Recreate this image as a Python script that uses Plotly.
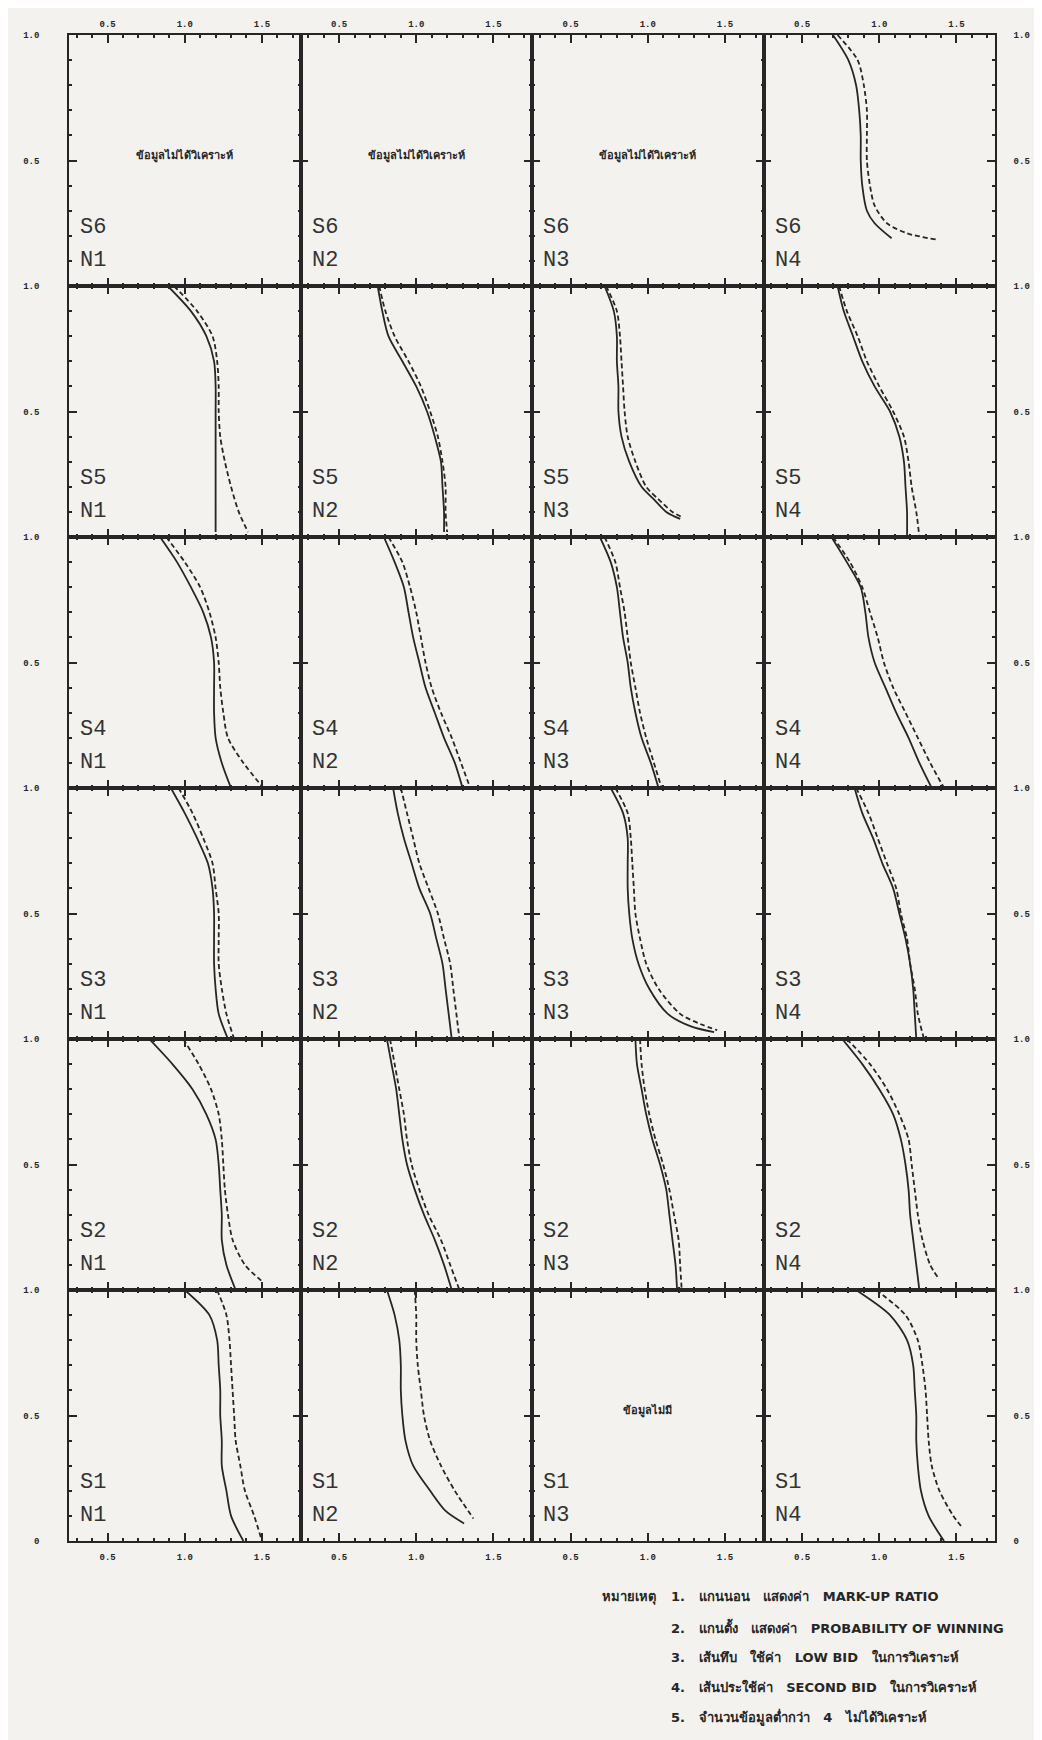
import plotly.graph_objects as go
from plotly.subplots import make_subplots

# ---------------- data (x = mark-up ratio, y = probability of winning) ----------------
Y_STD = [1.0, 0.9, 0.8, 0.7, 0.6, 0.5, 0.4, 0.3, 0.2, 0.1, 0.0]

# S6
S6N4_low_y = [1.0, 0.9, 0.8, 0.7, 0.6, 0.5, 0.4, 0.3, 0.25, 0.19]
S6N4_low_x = [0.70, 0.80, 0.85, 0.87, 0.88, 0.88, 0.89, 0.92, 0.97, 1.08]
S6N4_sec_y = [1.0, 0.9, 0.8, 0.7, 0.6, 0.5, 0.4, 0.32, 0.25, 0.21, 0.185]
S6N4_sec_x = [0.73, 0.86, 0.90, 0.92, 0.92, 0.92, 0.94, 0.97, 1.05, 1.18, 1.37]

# S5
S5N1_low_y = [1.0, 0.9, 0.8, 0.7, 0.6, 0.5, 0.4, 0.3, 0.2, 0.1, 0.02]
S5N1_low_x = [0.89, 1.04, 1.14, 1.19, 1.20, 1.20, 1.20, 1.20, 1.20, 1.20, 1.20]
S5N1_sec_x = [0.93, 1.08, 1.18, 1.21, 1.22, 1.22, 1.23, 1.26, 1.30, 1.35, 1.41]
S5N2_low_x = [0.75, 0.78, 0.82, 0.91, 1.00, 1.07, 1.12, 1.16, 1.17, 1.18, 1.18]
S5N2_sec_x = [0.76, 0.80, 0.86, 0.95, 1.03, 1.09, 1.14, 1.17, 1.19, 1.19, 1.20]
S5N3_low_y = [1.0, 0.9, 0.8, 0.7, 0.6, 0.5, 0.4, 0.3, 0.2, 0.15, 0.1, 0.072]
S5N3_low_x = [0.72, 0.78, 0.80, 0.80, 0.81, 0.81, 0.83, 0.88, 0.96, 1.04, 1.12, 1.21]
S5N3_sec_y = [1.0, 0.9, 0.8, 0.7, 0.6, 0.5, 0.4, 0.3, 0.2, 0.15, 0.1, 0.08]
S5N3_sec_x = [0.73, 0.80, 0.82, 0.83, 0.84, 0.85, 0.87, 0.92, 0.99, 1.07, 1.16, 1.22]
S5N4_low_x = [0.73, 0.77, 0.83, 0.89, 0.97, 1.07, 1.13, 1.16, 1.17, 1.18, 1.18]
S5N4_sec_x = [0.74, 0.79, 0.86, 0.92, 1.00, 1.09, 1.16, 1.19, 1.21, 1.24, 1.26]

# S4
S4N1_low_x = [0.84, 0.95, 1.04, 1.12, 1.17, 1.19, 1.19, 1.19, 1.20, 1.24, 1.30]
S4N1_sec_x = [0.88, 1.00, 1.10, 1.16, 1.20, 1.22, 1.23, 1.25, 1.28, 1.38, 1.51]
S4N2_low_x = [0.79, 0.86, 0.92, 0.95, 0.98, 1.02, 1.06, 1.12, 1.18, 1.25, 1.30]
S4N2_sec_x = [0.82, 0.91, 0.96, 1.00, 1.03, 1.06, 1.10, 1.16, 1.23, 1.29, 1.35]
S4N3_low_x = [0.69, 0.76, 0.80, 0.82, 0.84, 0.87, 0.89, 0.92, 0.96, 1.02, 1.07]
S4N3_sec_x = [0.72, 0.79, 0.82, 0.85, 0.87, 0.89, 0.92, 0.95, 0.99, 1.04, 1.09]
S4N4_low_x = [0.69, 0.79, 0.88, 0.91, 0.93, 0.97, 1.04, 1.11, 1.19, 1.26, 1.34]
S4N4_sec_x = [0.70, 0.81, 0.89, 0.94, 0.99, 1.03, 1.09, 1.17, 1.25, 1.33, 1.42]

# S3
S3N1_low_x = [0.91, 1.00, 1.08, 1.15, 1.18, 1.19, 1.19, 1.19, 1.20, 1.22, 1.28]
S3N1_sec_x = [0.96, 1.05, 1.12, 1.18, 1.20, 1.22, 1.22, 1.22, 1.24, 1.27, 1.32]
S3N2_low_x = [0.85, 0.88, 0.92, 0.97, 1.02, 1.09, 1.13, 1.17, 1.19, 1.21, 1.23]
S3N2_sec_x = [0.90, 0.94, 0.98, 1.02, 1.08, 1.14, 1.18, 1.22, 1.24, 1.26, 1.28]
S3N3_low_y = [1.0, 0.9, 0.8, 0.7, 0.6, 0.5, 0.4, 0.3, 0.2, 0.1, 0.05, 0.027]
S3N3_low_x = [0.76, 0.84, 0.87, 0.87, 0.87, 0.88, 0.90, 0.94, 1.01, 1.13, 1.28, 1.43]
S3N3_sec_y = [1.0, 0.9, 0.8, 0.7, 0.6, 0.5, 0.4, 0.3, 0.2, 0.1, 0.06, 0.035]
S3N3_sec_x = [0.79, 0.87, 0.89, 0.90, 0.91, 0.92, 0.95, 0.99, 1.07, 1.21, 1.34, 1.45]
S3N4_low_x = [0.84, 0.89, 0.96, 1.02, 1.09, 1.13, 1.17, 1.20, 1.22, 1.23, 1.24]
S3N4_sec_x = [0.85, 0.93, 0.99, 1.05, 1.11, 1.14, 1.18, 1.20, 1.23, 1.25, 1.29]

# S2
S2N1_low_x = [0.77, 0.92, 1.05, 1.14, 1.20, 1.22, 1.23, 1.24, 1.24, 1.27, 1.33]
S2N1_sec_y = [1.0, 0.9, 0.8, 0.7, 0.6, 0.5, 0.4, 0.3, 0.2, 0.1, 0.03]
S2N1_sec_x = [0.99, 1.09, 1.17, 1.22, 1.24, 1.25, 1.26, 1.28, 1.31, 1.39, 1.51]
S2N2_low_x = [0.81, 0.84, 0.87, 0.89, 0.91, 0.94, 0.99, 1.05, 1.12, 1.18, 1.23]
S2N2_sec_x = [0.83, 0.86, 0.89, 0.92, 0.94, 0.97, 1.02, 1.08, 1.16, 1.22, 1.28]
S2N3_low_x = [0.92, 0.93, 0.96, 0.99, 1.03, 1.08, 1.12, 1.14, 1.16, 1.18, 1.19]
S2N3_sec_x = [0.95, 0.96, 0.98, 1.01, 1.05, 1.10, 1.14, 1.17, 1.20, 1.21, 1.22]
S2N4_low_x = [0.76, 0.89, 1.00, 1.09, 1.14, 1.17, 1.19, 1.20, 1.22, 1.24, 1.26]
S2N4_sec_y = [1.0, 0.9, 0.8, 0.7, 0.6, 0.5, 0.4, 0.3, 0.2, 0.1, 0.05]
S2N4_sec_x = [0.79, 0.94, 1.05, 1.13, 1.19, 1.21, 1.23, 1.25, 1.28, 1.33, 1.38]

# S1
S1N1_low_x = [1.00, 1.16, 1.21, 1.22, 1.23, 1.23, 1.24, 1.24, 1.27, 1.30, 1.38]
S1N1_sec_x = [1.21, 1.27, 1.29, 1.30, 1.31, 1.32, 1.33, 1.36, 1.39, 1.45, 1.50]
S1N2_low_y = [1.0, 0.9, 0.8, 0.7, 0.6, 0.5, 0.4, 0.3, 0.2, 0.12, 0.07]
S1N2_low_x = [0.81, 0.86, 0.89, 0.90, 0.90, 0.91, 0.93, 0.98, 1.09, 1.19, 1.31]
S1N2_sec_y = [1.0, 0.9, 0.8, 0.7, 0.6, 0.5, 0.4, 0.3, 0.2, 0.09]
S1N2_sec_x = [0.99, 1.00, 1.00, 1.01, 1.03, 1.05, 1.09, 1.16, 1.25, 1.37]
S1N4_low_x = [0.85, 1.07, 1.18, 1.22, 1.23, 1.24, 1.24, 1.25, 1.27, 1.32, 1.42]
S1N4_sec_y = [1.0, 0.9, 0.8, 0.7, 0.6, 0.5, 0.4, 0.3, 0.2, 0.1, 0.06]
S1N4_sec_x = [0.98, 1.17, 1.25, 1.28, 1.30, 1.31, 1.32, 1.34, 1.39, 1.48, 1.53]

SERIES_LABELS = ["S6", "S5", "S4", "S3", "S2", "S1"]
N_LABELS = ["N1", "N2", "N3", "N4"]
X_TICKS = [0.5, 1.0, 1.5]
X_TICK_TEXT = ["0.5", "1.0", "1.5"]
NOT_ANALYSED = "ข้อมูลไม่ได้วิเคราะห์"
NO_DATA = "ข้อมูลไม่มี"
NOTE_HEAD = "หมายเหตุ"
NOTES = [
    "1.   แกนนอน   แสดงค่า   MARK-UP RATIO",
    "2.   แกนตั้ง   แสดงค่า   PROBABILITY OF WINNING",
    "3.   เส้นทึบ   ใช้ค่า   LOW BID   ในการวิเคราะห์",
    "4.   เส้นประใช้ค่า   SECOND BID   ในการวิเคราะห์",
    "5.   จำนวนข้อมูลต่ำกว่า   4   ไม่ได้วิเคราะห์",
]

# panel table built from the arrays above: (S, N) -> (low_x, low_y, sec_x, sec_y)
PANELS = {
    ("S6", "N4"): (S6N4_low_x, S6N4_low_y, S6N4_sec_x, S6N4_sec_y),
    ("S5", "N1"): (S5N1_low_x, S5N1_low_y, S5N1_sec_x, S5N1_low_y),
    ("S5", "N2"): (S5N2_low_x, S5N1_low_y, S5N2_sec_x, S5N1_low_y),
    ("S5", "N3"): (S5N3_low_x, S5N3_low_y, S5N3_sec_x, S5N3_sec_y),
    ("S5", "N4"): (S5N4_low_x, Y_STD, S5N4_sec_x, Y_STD),
    ("S4", "N1"): (S4N1_low_x, Y_STD, S4N1_sec_x, Y_STD),
    ("S4", "N2"): (S4N2_low_x, Y_STD, S4N2_sec_x, Y_STD),
    ("S4", "N3"): (S4N3_low_x, Y_STD, S4N3_sec_x, Y_STD),
    ("S4", "N4"): (S4N4_low_x, Y_STD, S4N4_sec_x, Y_STD),
    ("S3", "N1"): (S3N1_low_x, Y_STD, S3N1_sec_x, Y_STD),
    ("S3", "N2"): (S3N2_low_x, Y_STD, S3N2_sec_x, Y_STD),
    ("S3", "N3"): (S3N3_low_x, S3N3_low_y, S3N3_sec_x, S3N3_sec_y),
    ("S3", "N4"): (S3N4_low_x, Y_STD, S3N4_sec_x, Y_STD),
    ("S2", "N1"): (S2N1_low_x, Y_STD, S2N1_sec_x, S2N1_sec_y),
    ("S2", "N2"): (S2N2_low_x, Y_STD, S2N2_sec_x, Y_STD),
    ("S2", "N3"): (S2N3_low_x, Y_STD, S2N3_sec_x, Y_STD),
    ("S2", "N4"): (S2N4_low_x, Y_STD, S2N4_sec_x, S2N4_sec_y),
    ("S1", "N1"): (S1N1_low_x, Y_STD, S1N1_sec_x, Y_STD),
    ("S1", "N2"): (S1N2_low_x, S1N2_low_y, S1N2_sec_x, S1N2_sec_y),
    ("S1", "N4"): (S1N4_low_x, Y_STD, S1N4_sec_x, S1N4_sec_y),
}
TEXT_PANELS = {("S6", "N1"): NOT_ANALYSED, ("S6", "N2"): NOT_ANALYSED,
               ("S6", "N3"): NOT_ANALYSED, ("S1", "N3"): NO_DATA}

# ---------------- styling ----------------
# The page body adds an 8px margin, so the figure is 8px smaller and the
# margins are reduced by 8px to keep the plot area where the reference has it.
OFF = 8
W, H = 1042 - OFF, 1740 - OFF
L, R, T, B = 69 - OFF, 43, 28 - OFF, 199
BG = "#f3f2ef"
INK = "#262626"
MONO = "Liberation Mono, DejaVu Sans Mono, monospace"

fig = make_subplots(rows=6, cols=4, horizontal_spacing=0, vertical_spacing=0)

for r, s in enumerate(SERIES_LABELS, start=1):
    for c, n in enumerate(N_LABELS, start=1):
        key = (s, n)
        if key in PANELS:
            lx, ly, sx, sy = PANELS[key]
            fig.add_trace(go.Scatter(x=lx, y=ly, mode="lines",
                                     line=dict(color=INK, width=1.8, shape="spline", smoothing=0.8),
                                     showlegend=False, hoverinfo="skip"), row=r, col=c)
            fig.add_trace(go.Scatter(x=sx, y=sy, mode="lines",
                                     line=dict(color=INK, width=1.8, dash="5px,3px",
                                               shape="spline", smoothing=0.8),
                                     showlegend=False, hoverinfo="skip"), row=r, col=c)
        if key in TEXT_PANELS:
            fig.add_annotation(x=1.0, y=0.52, text=TEXT_PANELS[key], showarrow=False,
                               font=dict(size=11, color=INK, weight="bold"),
                               row=r, col=c)
        fig.add_annotation(x=0.31, y=0.235, text=s, showarrow=False, xanchor="left",
                           font=dict(family=MONO, size=22, color="#333333"), row=r, col=c)
        fig.add_annotation(x=0.31, y=0.10, text=n, showarrow=False, xanchor="left",
                           font=dict(family=MONO, size=22, color="#333333"), row=r, col=c)

tickfont = dict(family=MONO, size=9, color=INK, weight="bold")

fig.update_xaxes(range=[0.25, 1.75], showgrid=False, zeroline=False,
                 showline=True, linecolor=INK, linewidth=1.6, mirror="ticks",
                 ticks="inside", tickvals=X_TICKS, ticktext=X_TICK_TEXT,
                 ticklen=8, tickwidth=1.5, tickcolor=INK,
                 minor=dict(tickmode="linear", tick0=0.0, dtick=0.1, ticks="inside",
                            ticklen=3, tickwidth=2, tickcolor=INK),
                 showticklabels=False, tickfont=tickfont, fixedrange=True)
fig.update_xaxes(side="top", showticklabels=True, ticklabelstandoff=3, row=1)
fig.update_xaxes(showticklabels=True, ticklabelstandoff=6, row=6)

fig.update_yaxes(range=[0, 1], showgrid=False, zeroline=False,
                 showline=True, linecolor=INK, linewidth=1.6, mirror="ticks",
                 ticks="inside", tickvals=[0.5, 1.0], ticktext=["0.5", "1.0"],
                 ticklen=8, tickwidth=1.5, tickcolor=INK,
                 minor=dict(tickmode="linear", tick0=0.0, dtick=0.1, ticks="inside",
                            ticklen=3, tickwidth=2, tickcolor=INK),
                 showticklabels=False, tickfont=tickfont, fixedrange=True)
fig.update_yaxes(tickvals=[0.0, 0.5, 1.0], ticktext=["0", "0.5", "1.0"], row=6)
fig.update_yaxes(showticklabels=True, ticklabelstandoff=26, col=1)
fig.update_yaxes(showticklabels=True, side="right", ticklabelstandoff=15, col=4)

# notes block below the grid (paper coords relative to plot area; target screen px)
pw, ph = W - L - R, H - T - B


def px_to_paper(xp, yp):
    return (xp - OFF - L) / pw, (H - B - (yp - OFF)) / ph


NOTE_FONT = dict(family="DejaVu Sans, sans-serif", size=13, color=INK, weight="bold")
hx, hy = px_to_paper(661, 1597)
fig.add_annotation(xref="paper", yref="paper", x=hx, y=hy, text=NOTE_HEAD,
                   showarrow=False, xanchor="right", yanchor="middle", font=NOTE_FONT)
for i, note in enumerate(NOTES):
    nx, ny = px_to_paper(672, 1597 + i * 30.2)
    fig.add_annotation(xref="paper", yref="paper", x=nx, y=ny, text=note,
                       showarrow=False, xanchor="left", yanchor="middle", font=NOTE_FONT)

fig.update_layout(width=W, height=H, margin=dict(l=L, r=R, t=T, b=B),
                  paper_bgcolor=BG, plot_bgcolor=BG, showlegend=False,
                  font=dict(family="Noto Sans, DejaVu Sans, sans-serif", color=INK))

fig.write_html("out.html")
